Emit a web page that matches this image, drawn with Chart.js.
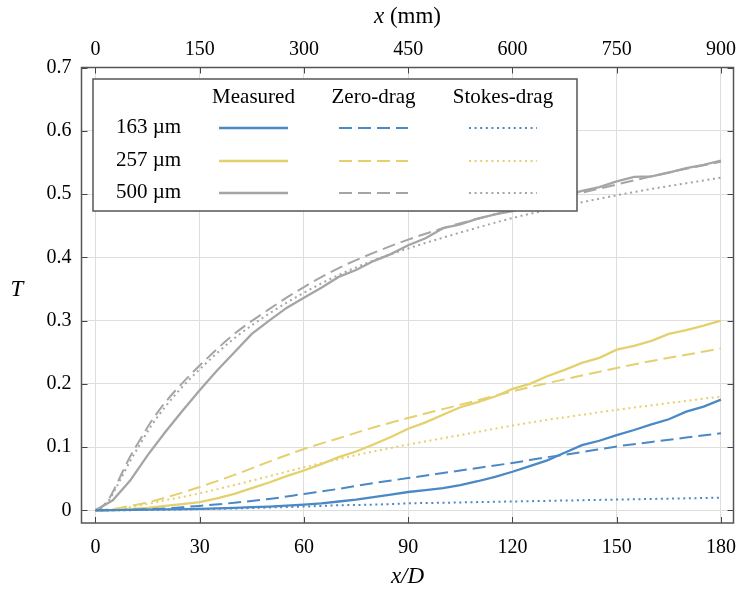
<!DOCTYPE html>
<html>
<head>
<meta charset="utf-8">
<script src="https://cdn.jsdelivr.net/npm/chart.js@4.4.1/dist/chart.umd.min.js"></script>
<style>
    body { margin: 0; background: #ffffff; }
    #wrap { width: 739px; height: 591px; }
</style>
</head>
<body>
<div id="wrap"><canvas id="transfer-chart" width="739" height="591"></canvas></div>
<script>
// Measured curves, sampled every 5 D
const measX = [0, 5, 10, 15, 20, 25, 30, 35, 40, 45, 50, 55, 60, 65, 70, 75, 80, 85, 90, 95, 100,
    105, 110, 115, 120, 125, 130, 135, 140, 145, 150, 155, 160, 165, 170, 175, 180];
const meas163 = [0, 0.0003, 0.0006, 0.001, 0.0014, 0.0018, 0.0022, 0.003, 0.004, 0.005, 0.006, 0.0075, 0.009,
    0.011, 0.014, 0.017, 0.021, 0.025, 0.029, 0.032, 0.035, 0.040, 0.046, 0.053, 0.061, 0.070, 0.079,
    0.091, 0.103, 0.110, 0.119, 0.127, 0.136, 0.144, 0.156, 0.164, 0.175];
const meas257 = [0, 0.0005, 0.002, 0.004, 0.007, 0.010, 0.013, 0.019, 0.026, 0.035, 0.044, 0.054, 0.063,
    0.073, 0.084, 0.093, 0.104, 0.116, 0.129, 0.139, 0.151, 0.163, 0.171, 0.180, 0.192, 0.200, 0.212,
    0.222, 0.233, 0.241, 0.254, 0.260, 0.268, 0.279, 0.285, 0.292, 0.300];
const meas500 = [0, 0.016, 0.047, 0.087, 0.123, 0.157, 0.190, 0.221, 0.250, 0.279, 0.300, 0.320, 0.336,
    0.352, 0.369, 0.380, 0.394, 0.405, 0.419, 0.430, 0.446, 0.452, 0.461, 0.468, 0.473, 0.483, 0.490,
    0.497, 0.505, 0.511, 0.520, 0.527, 0.528, 0.534, 0.541, 0.546, 0.553];

// Model curves (zero-drag and Stokes-drag)
const modelX = [0, 2, 4, 6, 8, 10, 13, 16, 20, 25, 30, 40, 50, 60, 70, 80, 90, 100, 110, 120, 130, 140, 150, 160, 170, 180];
const zero163 = [0, 0, 0.0002, 0.0004, 0.0007, 0.001, 0.0015, 0.002, 0.003, 0.005, 0.007, 0.012, 0.018,
    0.026, 0.034, 0.043, 0.051, 0.059, 0.067, 0.075, 0.084, 0.092, 0.101, 0.108, 0.115, 0.122];
const zero257 = [0, 0.0005, 0.0015, 0.003, 0.005, 0.007, 0.010, 0.014, 0.020, 0.028, 0.037, 0.056, 0.077,
    0.097, 0.114, 0.131, 0.146, 0.160, 0.174, 0.188, 0.201, 0.213, 0.225, 0.236, 0.246, 0.256];
const zero500 = [0, 0.006, 0.019, 0.040, 0.063, 0.085, 0.113, 0.140, 0.170, 0.201, 0.229, 0.279, 0.318,
    0.353, 0.383, 0.407, 0.428, 0.446, 0.461, 0.475, 0.489, 0.502, 0.515, 0.528, 0.540, 0.551];
const stokes163 = [0, 0, 0, 0.0001, 0.0002, 0.0003, 0.0005, 0.0007, 0.001, 0.0015, 0.002, 0.003, 0.0045,
    0.006, 0.008, 0.009, 0.011, 0.012, 0.013, 0.014, 0.015, 0.016, 0.017, 0.018, 0.019, 0.020];
const stokes257 = [0, 0.0004, 0.001, 0.002, 0.004, 0.005, 0.008, 0.011, 0.016, 0.021, 0.027, 0.040, 0.054,
    0.068, 0.081, 0.093, 0.104, 0.114, 0.124, 0.134, 0.143, 0.151, 0.159, 0.166, 0.173, 0.180];
const stokes500 = [0, 0.005, 0.017, 0.036, 0.057, 0.078, 0.106, 0.133, 0.163, 0.195, 0.223, 0.272, 0.311,
    0.344, 0.372, 0.395, 0.414, 0.431, 0.447, 0.462, 0.475, 0.487, 0.498, 0.508, 0.517, 0.526];

// Tick labels and legend text
const xTickValues = [0, 30, 60, 90, 120, 150, 180];
const mmTickValues = [0, 150, 300, 450, 600, 750, 900];
const yTickValues = [0, 0.1, 0.2, 0.3, 0.4, 0.5, 0.6, 0.7];
const sizeLabels = ['163 \u00b5m', '257 \u00b5m', '500 \u00b5m'];
const modelLabels = ['Measured', 'Zero-drag', 'Stokes-drag'];

document.addEventListener('DOMContentLoaded', function () {
    const ctx = document.getElementById('transfer-chart').getContext('2d');
    const serif = '"Liberation Serif", "DejaVu Serif", serif';
    const colors = ['#4a89c6', '#e4d06e', '#a5a5a5'];
    const dashes = [[], [13, 6], [2, 3.6]];

    function pts(xs, ys) {
        return xs.map(function (x, i) { return { x: x, y: ys[i] }; });
    }

    const groups = [
        [meas163, zero163, stokes163],
        [meas257, zero257, stokes257],
        [meas500, zero500, stokes500]
    ];

    const datasets = [];
    groups.forEach(function (g, s) {
        // stokes first, then zero-drag, measured on top
        [2, 1, 0].forEach(function (k) {
            datasets.push({
                label: sizeLabels[s] + ' ' + modelLabels[k],
                data: pts(k === 0 ? measX : modelX, g[k]),
                borderColor: colors[s],
                borderWidth: k === 0 ? 2.3 : 2,
                borderDash: dashes[k],
                pointRadius: 0,
                fill: false,
                tension: 0,
                cubicInterpolationMode: k === 0 ? 'default' : 'monotone'
            });
        });
    });

    // no extra side padding from the tick labels
    function noSidePad(s) {
        s.paddingLeft = 0;
        s.paddingRight = 0;
    }

    // frame, inward ticks, legend table and axis titles
    const decorations = {
        id: 'decorations',
        afterDraw: function (chart) {
            const c = chart.ctx;
            const a = chart.chartArea;
            const xs = chart.scales.x;
            const ys = chart.scales.y;
            c.save();

            c.strokeStyle = '#444';
            c.lineWidth = 1;
            c.beginPath();
            xTickValues.forEach(function (v) {
                const px = Math.round(xs.getPixelForValue(v)) + 0.5;
                c.moveTo(px, a.bottom); c.lineTo(px, a.bottom - 6);
                c.moveTo(px, a.top); c.lineTo(px, a.top + 6);
            });
            yTickValues.forEach(function (v) {
                const py = Math.round(ys.getPixelForValue(v)) + 0.5;
                c.moveTo(a.left, py); c.lineTo(a.left + 6, py);
                c.moveTo(a.right, py); c.lineTo(a.right - 6, py);
            });
            c.stroke();

            c.strokeStyle = '#555';
            c.lineWidth = 1.5;
            c.strokeRect(a.left, a.top, a.right - a.left, a.bottom - a.top);

            // legend box
            const box = { l: 93, t: 79, r: 577, b: 211 };
            c.fillStyle = '#ffffff';
            c.fillRect(box.l, box.t, box.r - box.l, box.b - box.t);
            c.strokeRect(box.l, box.t, box.r - box.l, box.b - box.t);

            c.fillStyle = '#000';
            c.font = '21px ' + serif;
            c.textBaseline = 'middle';
            c.textAlign = 'center';
            const colX = [[219, 288], [339, 408], [469, 537]];
            modelLabels.forEach(function (t, k) {
                c.fillText(t, (colX[k][0] + colX[k][1]) / 2, 97);
            });
            const rowY = [127, 160, 192];
            c.textAlign = 'left';
            sizeLabels.forEach(function (t, s) {
                c.fillStyle = '#000';
                c.fillText(t, 116, rowY[s]);
                colX.forEach(function (cx, k) {
                    c.strokeStyle = colors[s];
                    c.lineWidth = k === 0 ? 2.3 : 2;
                    c.setLineDash(dashes[k]);
                    c.beginPath();
                    c.moveTo(cx[0], rowY[s] + 1);
                    c.lineTo(cx[1], rowY[s] + 1);
                    c.stroke();
                });
                c.setLineDash([]);
            });

            // axis titles
            const midX = (a.left + a.right) / 2;
            c.fillStyle = '#000';
            c.textAlign = 'center';
            c.font = 'italic 23px ' + serif;
            c.fillText('x/D', midX, 577);
            c.fillText('T', 17, 290);
            const w1 = c.measureText('x').width;
            c.font = '23px ' + serif;
            const w2 = c.measureText(' (mm)').width;
            const sx = midX - (w1 + w2) / 2;
            c.textAlign = 'left';
            c.font = 'italic 23px ' + serif;
            c.fillText('x', sx, 17);
            c.font = '23px ' + serif;
            c.fillText(' (mm)', sx + w1, 17);
            c.restore();
        }
    };

    const tickFont = { family: serif, size: 20 };

    new Chart(ctx, {
        type: 'line',
        data: { datasets: datasets },
        options: {
            responsive: false,
            animation: false,
            layout: { padding: { right: 5.5, left: 0, top: 0, bottom: 0 } },
            plugins: {
                legend: { display: false },
                tooltip: { enabled: false }
            },
            scales: {
                x: {
                    type: 'linear',
                    position: 'bottom',
                    min: -4,
                    max: 183.6,
                    afterBuildTicks: function (s) { s.ticks = xTickValues.map(function (v) { return { value: v }; }); },
                    afterFit: function (s) { s.height = 68; noSidePad(s); },
                    grid: { color: '#dedede', lineWidth: 1, drawTicks: false },
                    border: { display: false },
                    ticks: { font: tickFont, color: '#000', padding: 13, maxRotation: 0,
                        callback: function (v) { return String(v); } }
                },
                x2: {
                    type: 'linear',
                    position: 'top',
                    min: -20,
                    max: 918,
                    afterBuildTicks: function (s) { s.ticks = mmTickValues.map(function (v) { return { value: v }; }); },
                    afterFit: function (s) { s.height = 67.5; noSidePad(s); },
                    grid: { display: false, drawTicks: false },
                    border: { display: false },
                    ticks: { font: tickFont, color: '#000', padding: 6, maxRotation: 0,
                        callback: function (v) { return String(v); } }
                },
                y: {
                    type: 'linear',
                    min: -0.02,
                    max: 0.7,
                    afterBuildTicks: function (s) { s.ticks = yTickValues.map(function (v) { return { value: v }; }); },
                    afterFit: function (s) { s.width = 81.5; s.paddingTop = 0; s.paddingBottom = 0; },
                    grid: { color: '#dedede', lineWidth: 1, drawTicks: false },
                    border: { display: false },
                    ticks: { font: tickFont, color: '#000', padding: 10,
                        callback: function (v) { return String(v); } }
                }
            }
        },
        plugins: [decorations]
    });
});
</script>
</body>
</html>
